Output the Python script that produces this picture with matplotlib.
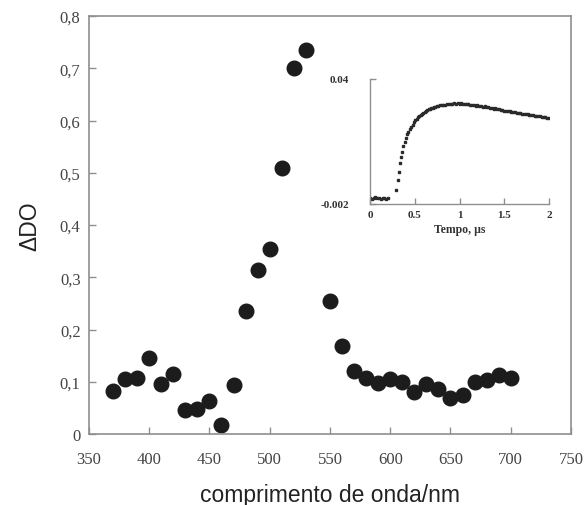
import matplotlib
matplotlib.use("Agg")
import matplotlib.pyplot as plt

# espectro de absorção transiente
comprimento = [370, 380, 390, 400, 410, 420, 430, 440, 450, 460, 470, 480, 490, 500,
               510, 520, 530, 550, 560, 570, 580, 590, 600, 610, 620, 630, 640, 650,
               660, 670, 680, 690, 700]
delta_do = [0.082, 0.105, 0.107, 0.145, 0.095, 0.115, 0.046, 0.047, 0.063, 0.017, 0.093,
            0.235, 0.313, 0.355, 0.510, 0.700, 0.735, 0.255, 0.168, 0.120, 0.108, 0.097,
            0.106, 0.100, 0.080, 0.095, 0.086, 0.068, 0.075, 0.100, 0.103, 0.113, 0.108]

x_ticks = [350, 400, 450, 500, 550, 600, 650, 700, 750]
y_ticks = [0, 0.1, 0.2, 0.3, 0.4, 0.5, 0.6, 0.7, 0.8]
y_labels = ["0", "0,1", "0,2", "0,3", "0,4", "0,5", "0,6", "0,7", "0,8"]

# decaimento (inset)
tempo = [0.00, 0.02, 0.04, 0.06, 0.08, 0.10, 0.12, 0.14, 0.16, 0.18, 0.20,
         0.29, 0.309, 0.324, 0.335, 0.346, 0.358, 0.372, 0.387, 0.40, 0.415, 0.43,
         0.445, 0.46, 0.475, 0.49, 0.505, 0.52, 0.535, 0.55, 0.565, 0.58, 0.595,
         0.61, 0.625, 0.64, 0.655, 0.67, 0.685, 0.70, 0.715, 0.73, 0.745, 0.76,
         0.78, 0.80, 0.82, 0.84, 0.86, 0.88, 0.90, 0.92, 0.94, 0.96, 0.98, 1.00,
         1.02, 1.04, 1.06, 1.08, 1.10, 1.12, 1.14, 1.16, 1.18, 1.20, 1.22, 1.24,
         1.26, 1.28, 1.30, 1.32, 1.34, 1.36, 1.38, 1.40, 1.42, 1.44, 1.46, 1.48,
         1.50, 1.52, 1.54, 1.56, 1.58, 1.60, 1.62, 1.64, 1.66, 1.68, 1.70, 1.72,
         1.74, 1.76, 1.78, 1.80, 1.82, 1.84, 1.86, 1.88, 1.90, 1.92, 1.94, 1.96,
         1.98, 2.00]
sinal = [0.0001, -0.0002, 0.0000, 0.0002, -0.0001, 0.0000, -0.0003, 0.0001, 0.0000, -0.0002, 0.0001,
         0.0027, 0.0062, 0.0089, 0.0117, 0.0139, 0.0156, 0.0174, 0.0189, 0.0203, 0.0214, 0.0222,
         0.0232, 0.0240, 0.0247, 0.0254, 0.0261, 0.0266, 0.0271, 0.0276, 0.0280, 0.0283, 0.0287,
         0.0290, 0.0292, 0.0295, 0.0298, 0.0300, 0.0302, 0.0303, 0.0305, 0.0307, 0.0308, 0.0309,
         0.0311, 0.0312, 0.0314, 0.0313, 0.0316, 0.0315, 0.0317, 0.0316, 0.0318, 0.0317, 0.0318, 0.0317,
         0.0318, 0.0316, 0.0317, 0.0315, 0.0316, 0.0314, 0.0312, 0.0314, 0.0310, 0.0312, 0.0309, 0.0310,
         0.0307, 0.0308, 0.0305, 0.0306, 0.0303, 0.0304, 0.0300, 0.0301, 0.0299, 0.0298, 0.0296, 0.0297,
         0.0293, 0.0294, 0.0291, 0.0292, 0.0289, 0.0290, 0.0288, 0.0287, 0.0286, 0.0287, 0.0284, 0.0283,
         0.0282, 0.0281, 0.0280, 0.0279, 0.0278, 0.0277, 0.0276, 0.0276, 0.0274, 0.0273, 0.0272, 0.0271,
         0.0270, 0.0269]

spine_cor = "#8f8f8f"

fig = plt.figure(figsize=(5.85, 5.06), dpi=100)
ax = fig.add_axes([0.152, 0.1403, 0.824, 0.826])
ax.plot(comprimento, delta_do, "o", color="#1c1c1c", markersize=10.5)
ax.set_xlim(350, 750)
ax.set_ylim(0, 0.8)
ax.set_xticks(x_ticks)
ax.set_yticks(y_ticks)
ax.set_yticklabels(y_labels)
for s in ax.spines.values():
    s.set_color(spine_cor)
    s.set_linewidth(1.2)
ax.tick_params(axis="both", direction="in", length=5, width=1, color=spine_cor,
               labelsize=12, labelcolor="#444444")
ax.tick_params(axis="x", pad=12)
ax.tick_params(axis="y", pad=6)
for lab in ax.get_xticklabels() + ax.get_yticklabels():
    lab.set_family("Liberation Serif")
ax.set_xlabel("comprimento de onda/nm", fontsize=16.5, family="Liberation Sans",
              color="#222222", labelpad=12)
ax.set_ylabel("\u0394DO", fontsize=16.5, family="Liberation Sans", color="#222222",
              labelpad=13)

# inset
ins = fig.add_axes([0.6325, 0.5949, 0.306, 0.247])
ins.plot(tempo, sinal, "s", color="#2a2a2a", markersize=1.8)
ins.set_xlim(0, 2)
ins.set_ylim(-0.002, 0.04)
ins.set_xticks([0, 0.5, 1, 1.5, 2])
ins.set_xticklabels(["0", "0.5", "1", "1.5", "2"])
ins.set_yticks([-0.002, 0.04])
ins.set_yticklabels(["-0.002", "0.04"])
ins.spines["top"].set_visible(False)
ins.spines["right"].set_visible(False)
for s in ["left", "bottom"]:
    ins.spines[s].set_color(spine_cor)
    ins.spines[s].set_linewidth(1.0)
ins.tick_params(axis="both", direction="in", length=4, width=1, color=spine_cor,
                labelsize=8, labelcolor="#333333")
ins.tick_params(axis="x", pad=4)
ins.tick_params(axis="y", pad=15)
for lab in ins.get_xticklabels() + ins.get_yticklabels():
    lab.set_family("Liberation Serif")
    lab.set_fontweight("bold")
ins.set_xlabel("Tempo, \u00b5s", fontsize=8.5, family="Liberation Serif",
               fontweight="bold", color="#333333", labelpad=3)
ins.patch.set_alpha(0)

fig.savefig("out.png", dpi=100)
